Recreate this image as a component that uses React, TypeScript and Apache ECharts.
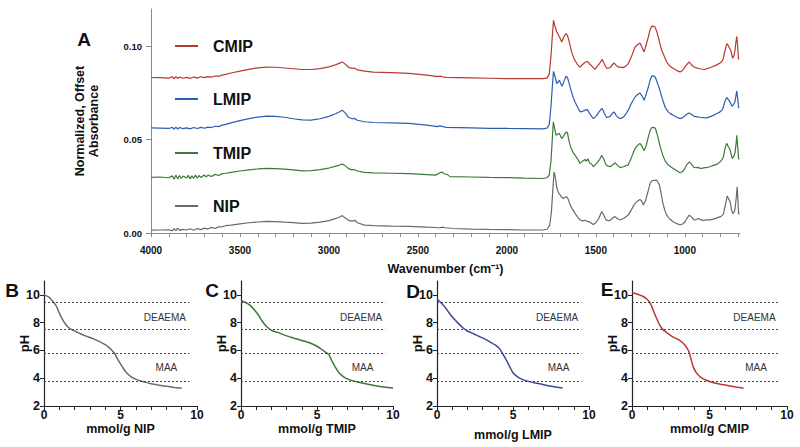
import React, { useEffect, useRef } from "react";
import * as echarts from "echarts";

// ---------- Panel A: FTIR spectra (wavenumber cm-1, normalized offset absorbance) ----------
const spectrumNames = ["CMIP", "LMIP", "TMIP", "NIP"];
const spectrumColors = ["#b8392f", "#2c5db2", "#3c7a37", "#6a6a6a"];

const cmipSpectrum: [number, number][] = [
  [4000, 0.0833], [3950, 0.0832], [3900, 0.083], [3880, 0.0837], [3870, 0.0826], [3860, 0.0838], [3850, 0.0827],
  [3840, 0.0836], [3820, 0.0829], [3800, 0.0834], [3780, 0.0828], [3760, 0.0836], [3740, 0.083], [3720, 0.0837],
  [3700, 0.0832], [3680, 0.0838], [3660, 0.0835], [3640, 0.0841], [3620, 0.084], [3600, 0.0846], [3580, 0.085],
  [3550, 0.0857], [3500, 0.0867], [3450, 0.0877], [3400, 0.0885], [3350, 0.0889], [3300, 0.0888], [3250, 0.0884],
  [3200, 0.088], [3150, 0.0876], [3100, 0.0876], [3050, 0.0881], [3000, 0.089], [2960, 0.0902], [2940, 0.091],
  [2925, 0.0916], [2910, 0.0906], [2890, 0.0888], [2870, 0.0882], [2858, 0.0884], [2840, 0.0874], [2800, 0.0867],
  [2750, 0.0862], [2650, 0.0859], [2550, 0.0855], [2450, 0.0846], [2390, 0.0838], [2376, 0.084], [2360, 0.0836],
  [2340, 0.0834], [2200, 0.0831], [2100, 0.0829], [2000, 0.0827], [1900, 0.0827], [1800, 0.0827], [1775, 0.083],
  [1762, 0.085], [1752, 0.095], [1745, 0.105], [1738, 0.1139], [1730, 0.111], [1720, 0.1077], [1712, 0.1065],
  [1705, 0.105], [1697, 0.1035], [1692, 0.1023], [1679, 0.1053], [1668, 0.1068], [1660, 0.106], [1650, 0.1025],
  [1645, 0.1005], [1635, 0.0965], [1623, 0.0934], [1605, 0.0905], [1589, 0.0889], [1575, 0.0903], [1560, 0.0915],
  [1548, 0.092], [1535, 0.0905], [1523, 0.0895], [1505, 0.0877], [1495, 0.089], [1482, 0.0905], [1464, 0.093],
  [1452, 0.0905], [1439, 0.0881], [1428, 0.0884], [1420, 0.0886], [1408, 0.09], [1398, 0.0911], [1386, 0.0898],
  [1374, 0.0889], [1364, 0.0889], [1346, 0.0886], [1330, 0.0895], [1318, 0.0907], [1300, 0.0945], [1280, 0.0996],
  [1265, 0.101], [1252, 0.1018], [1241, 0.0995], [1229, 0.097], [1217, 0.101], [1205, 0.105], [1195, 0.109],
  [1186, 0.1107], [1175, 0.1108], [1167, 0.1102], [1158, 0.108], [1149, 0.105], [1140, 0.1015], [1130, 0.0979],
  [1115, 0.0945], [1102, 0.0916], [1085, 0.0895], [1065, 0.0881], [1045, 0.087], [1027, 0.0863], [1012, 0.0872],
  [999, 0.089], [987, 0.0905], [975, 0.0916], [962, 0.09], [948, 0.0889], [930, 0.0883], [915, 0.088], [892, 0.0876],
  [870, 0.0882], [849, 0.0889], [825, 0.0898], [802, 0.0911], [790, 0.0922], [784, 0.0935], [775, 0.0975],
  [765, 0.101], [761, 0.1014], [752, 0.0995], [742, 0.0979], [731, 0.0936], [724, 0.095], [718, 0.098],
  [712, 0.103], [708, 0.1053], [703, 0.1], [699, 0.0934], [694, 0.093],
];

const lmipSpectrum: [number, number][] = [
  [4000, 0.0563], [3950, 0.0562], [3900, 0.056], [3880, 0.0566], [3870, 0.0556], [3860, 0.0567], [3850, 0.0557],
  [3840, 0.0565], [3820, 0.0559], [3800, 0.0563], [3780, 0.0558], [3760, 0.0565], [3740, 0.056], [3720, 0.0566],
  [3700, 0.0561], [3680, 0.0567], [3660, 0.0565], [3640, 0.0572], [3620, 0.057], [3600, 0.0578], [3580, 0.0582],
  [3550, 0.059], [3500, 0.0602], [3450, 0.0613], [3400, 0.0621], [3350, 0.0626], [3300, 0.0625], [3250, 0.062],
  [3200, 0.0612], [3150, 0.0606], [3100, 0.0605], [3050, 0.0612], [3000, 0.0625], [2960, 0.064], [2940, 0.065],
  [2925, 0.0658], [2910, 0.0645], [2890, 0.062], [2870, 0.0612], [2858, 0.0614], [2840, 0.0604], [2800, 0.0596],
  [2750, 0.0592], [2650, 0.059], [2550, 0.0587], [2450, 0.0578], [2390, 0.057], [2376, 0.0574], [2360, 0.057],
  [2340, 0.0566], [2200, 0.0563], [2100, 0.0561], [2000, 0.056], [1900, 0.0559], [1800, 0.0558], [1775, 0.0562],
  [1762, 0.058], [1752, 0.068], [1745, 0.078], [1738, 0.0866], [1730, 0.084], [1720, 0.08], [1712, 0.081],
  [1705, 0.0818], [1697, 0.08], [1690, 0.0786], [1678, 0.0815], [1668, 0.084], [1660, 0.0835], [1650, 0.08],
  [1640, 0.0765], [1628, 0.0728], [1617, 0.0702], [1600, 0.067], [1589, 0.0649], [1575, 0.0652], [1560, 0.0658],
  [1548, 0.0661], [1535, 0.064], [1524, 0.0625], [1514, 0.0613], [1500, 0.0625], [1485, 0.0645], [1470, 0.0664],
  [1464, 0.0667], [1452, 0.064], [1439, 0.0619], [1428, 0.0622], [1420, 0.0625], [1408, 0.064], [1398, 0.0649],
  [1386, 0.063], [1374, 0.0618], [1364, 0.0613], [1346, 0.062], [1330, 0.064], [1318, 0.0658], [1300, 0.0695],
  [1280, 0.0729], [1265, 0.0742], [1252, 0.075], [1241, 0.0735], [1229, 0.0711], [1217, 0.0745], [1205, 0.0782],
  [1195, 0.082], [1186, 0.084], [1175, 0.0842], [1165, 0.0833], [1153, 0.08], [1143, 0.0774], [1133, 0.074],
  [1124, 0.0711], [1110, 0.0672], [1093, 0.0649], [1080, 0.0638], [1065, 0.0631], [1045, 0.062], [1027, 0.0613],
  [1012, 0.0618], [999, 0.0628], [987, 0.0638], [975, 0.0643], [962, 0.0635], [948, 0.0625], [930, 0.0622],
  [915, 0.062], [895, 0.0618], [878, 0.0617], [860, 0.0622], [840, 0.063], [820, 0.064], [802, 0.0649],
  [790, 0.066], [784, 0.0672], [775, 0.0705], [765, 0.0726], [755, 0.0715], [746, 0.07], [738, 0.0685],
  [733, 0.0679], [725, 0.069], [718, 0.0705], [712, 0.074], [708, 0.0761], [703, 0.072], [698, 0.0672], [694, 0.067],
];

const tmipSpectrum: [number, number][] = [
  [4000, 0.0298], [3950, 0.03], [3900, 0.0296], [3880, 0.0306], [3870, 0.0288], [3860, 0.031], [3850, 0.029],
  [3840, 0.0308], [3830, 0.0292], [3820, 0.0305], [3800, 0.0295], [3790, 0.0309], [3780, 0.029], [3770, 0.0306],
  [3760, 0.0293], [3750, 0.031], [3740, 0.0294], [3730, 0.0308], [3720, 0.0297], [3700, 0.0311], [3690, 0.0299],
  [3680, 0.031], [3660, 0.0303], [3640, 0.0314], [3620, 0.0308], [3600, 0.0318], [3580, 0.032], [3550, 0.0325],
  [3500, 0.0332], [3450, 0.0338], [3400, 0.0343], [3350, 0.0346], [3300, 0.0345], [3250, 0.0342], [3200, 0.0338],
  [3150, 0.0333], [3100, 0.0334], [3050, 0.034], [3000, 0.0348], [2960, 0.0358], [2940, 0.0364], [2925, 0.0369],
  [2910, 0.0362], [2890, 0.0345], [2870, 0.0338], [2858, 0.034], [2840, 0.0332], [2800, 0.0325], [2750, 0.0322],
  [2650, 0.032], [2550, 0.0318], [2450, 0.0313], [2400, 0.031], [2376, 0.0323], [2365, 0.0326], [2348, 0.0316],
  [2335, 0.0314], [2320, 0.0302], [2200, 0.03], [2100, 0.0298], [2000, 0.0297], [1900, 0.0294], [1800, 0.0292],
  [1775, 0.0296], [1762, 0.031], [1752, 0.039], [1745, 0.05], [1739, 0.0595], [1732, 0.056], [1724, 0.0524],
  [1715, 0.053], [1705, 0.0533], [1697, 0.0515], [1690, 0.0506], [1678, 0.0525], [1668, 0.054], [1660, 0.0538],
  [1650, 0.049], [1640, 0.0455], [1628, 0.0432], [1617, 0.0417], [1600, 0.0392], [1589, 0.0373], [1575, 0.0385],
  [1561, 0.0394], [1553, 0.0384], [1545, 0.0398], [1535, 0.0375], [1525, 0.037], [1514, 0.0355], [1502, 0.0368],
  [1492, 0.0378], [1478, 0.0395], [1467, 0.0417], [1455, 0.0395], [1443, 0.0365], [1430, 0.0358], [1420, 0.0355],
  [1405, 0.0366], [1392, 0.0376], [1378, 0.0362], [1364, 0.035], [1345, 0.0355], [1327, 0.0362], [1318, 0.0364],
  [1300, 0.0405], [1280, 0.0453], [1265, 0.047], [1252, 0.048], [1241, 0.0465], [1229, 0.044], [1217, 0.047],
  [1205, 0.0515], [1195, 0.055], [1186, 0.0565], [1175, 0.0566], [1165, 0.056], [1153, 0.052], [1143, 0.048],
  [1133, 0.0445], [1124, 0.0417], [1110, 0.0385], [1093, 0.0364], [1080, 0.0355], [1065, 0.0346], [1045, 0.0333],
  [1027, 0.0323], [1012, 0.033], [999, 0.0348], [987, 0.0368], [975, 0.0381], [962, 0.0368], [948, 0.0352],
  [935, 0.035], [924, 0.0352], [915, 0.0346], [900, 0.0348], [887, 0.035], [870, 0.0352], [855, 0.0356],
  [840, 0.0362], [820, 0.0368], [802, 0.0381], [790, 0.0395], [784, 0.0405], [775, 0.045], [765, 0.048],
  [755, 0.0462], [746, 0.0447], [738, 0.0415], [733, 0.0399], [725, 0.041], [718, 0.043], [712, 0.048],
  [708, 0.0524], [703, 0.046], [698, 0.0399], [694, 0.0395],
];

const nipSpectrum: [number, number][] = [
  [4000, 0.0015], [3950, 0.0016], [3900, 0.0017], [3880, 0.0012], [3870, 0.0024], [3860, 0.0013], [3850, 0.0026],
  [3840, 0.0014], [3820, 0.0019], [3800, 0.0016], [3780, 0.0023], [3760, 0.0015], [3740, 0.0024], [3720, 0.0018],
  [3700, 0.0026], [3680, 0.0021], [3660, 0.003], [3640, 0.0024], [3620, 0.0033], [3600, 0.0034], [3580, 0.0039],
  [3550, 0.0042], [3500, 0.0049], [3450, 0.0055], [3400, 0.0059], [3350, 0.0062], [3300, 0.0061], [3250, 0.0058],
  [3200, 0.0056], [3150, 0.0052], [3100, 0.0053], [3050, 0.0058], [3000, 0.0066], [2960, 0.0078], [2940, 0.0086],
  [2925, 0.0093], [2910, 0.0082], [2890, 0.0068], [2870, 0.0064], [2855, 0.0068], [2840, 0.0055], [2800, 0.0042],
  [2750, 0.0039], [2650, 0.0037], [2550, 0.0036], [2450, 0.0031], [2380, 0.0028], [2365, 0.0031], [2345, 0.0028],
  [2300, 0.0024], [2200, 0.0021], [2100, 0.0019], [2000, 0.0018], [1900, 0.0016], [1800, 0.0016], [1775, 0.002],
  [1760, 0.004], [1750, 0.011], [1742, 0.023], [1735, 0.0328], [1728, 0.03], [1720, 0.0245], [1710, 0.0215],
  [1700, 0.0203], [1690, 0.019], [1683, 0.0185], [1672, 0.0192], [1664, 0.0194], [1655, 0.018], [1645, 0.0152],
  [1630, 0.0125], [1617, 0.0105], [1600, 0.0082], [1589, 0.007], [1575, 0.0065], [1561, 0.0068], [1548, 0.0062],
  [1537, 0.006], [1525, 0.0052], [1514, 0.0045], [1500, 0.0055], [1485, 0.0075], [1467, 0.0115], [1455, 0.0095],
  [1443, 0.007], [1430, 0.0066], [1420, 0.0068], [1405, 0.008], [1392, 0.0088], [1378, 0.0076], [1364, 0.007],
  [1345, 0.0078], [1327, 0.009], [1318, 0.0096], [1300, 0.0125], [1280, 0.0159], [1265, 0.0172], [1252, 0.018],
  [1242, 0.017], [1233, 0.015], [1220, 0.0175], [1205, 0.023], [1195, 0.0265], [1186, 0.028], [1172, 0.0282],
  [1158, 0.0283], [1143, 0.0258], [1133, 0.021], [1124, 0.0162], [1112, 0.012], [1102, 0.0096], [1085, 0.0075],
  [1065, 0.006], [1045, 0.005], [1027, 0.0043], [1012, 0.0048], [999, 0.006], [987, 0.008], [975, 0.0096],
  [962, 0.0085], [948, 0.007], [935, 0.0072], [924, 0.0078], [910, 0.007], [896, 0.0068], [878, 0.007],
  [858, 0.007], [835, 0.0076], [812, 0.0084], [798, 0.0088], [784, 0.01], [772, 0.015], [762, 0.0198],
  [755, 0.0185], [746, 0.0168], [738, 0.0125], [731, 0.0105], [724, 0.011], [718, 0.013], [711, 0.019],
  [706, 0.0248], [702, 0.018], [698, 0.0105], [694, 0.01],
];

const spectra = [cmipSpectrum, lmipSpectrum, tmipSpectrum, nipSpectrum];
const legendCenterTops = [38, 91, 145, 198];

const wavenumberLabels = [1000, 1500, 2000, 2500, 3000, 3500, 4000];
const wavenumberTicks = [
  700, 800, 900, 1000, 1100, 1200, 1300, 1400, 1500, 1600, 1700, 1800, 1900, 2000, 2100, 2200, 2300, 2400,
  2500, 2600, 2700, 2800, 2900, 3000, 3100, 3200, 3300, 3400, 3500, 3600, 3700, 3800, 3900, 4000,
];
const absorbanceLabels = [0, 0.05, 0.1];

// ---------- Panels B–E: titration curves (mmol/g vs pH) ----------
const titrationNames = ["mmol/g NIP", "mmol/g TMIP", "mmol/g LMIP", "mmol/g CMIP"];
const titrationLetters = ["B", "C", "D", "E"];
const titrationColors = ["#6a6a6a", "#3c7a37", "#3a479c", "#b8392f"];

const nipTitration: [number, number][] = [
  [0, 10.0], [0.3, 9.85], [0.6, 9.5], [0.8, 9.2], [1.0, 8.7], [1.15, 8.35], [1.4, 7.9], [1.6, 7.65],
  [1.9, 7.45], [2.2, 7.3], [2.7, 7.05], [3.2, 6.85], [3.7, 6.6], [4.1, 6.35], [4.4, 6.05], [4.6, 5.8],
  [4.85, 5.3], [5.1, 4.85], [5.35, 4.45], [5.7, 4.1], [6.1, 3.88], [6.5, 3.75], [7.0, 3.6], [7.5, 3.5],
  [8.0, 3.42], [8.5, 3.34], [9.0, 3.27],
];
const tmipTitration: [number, number][] = [
  [0, 9.6], [0.3, 9.45], [0.6, 9.25], [0.9, 8.9], [1.15, 8.55], [1.4, 8.1], [1.7, 7.7], [2.0, 7.45],
  [2.4, 7.3], [3.0, 7.05], [3.5, 6.88], [4.0, 6.72], [4.5, 6.55], [5.0, 6.3], [5.4, 6.0], [5.77, 5.7],
  [6.0, 5.2], [6.2, 4.8], [6.45, 4.4], [6.75, 4.1], [7.1, 3.9], [7.6, 3.75], [8.2, 3.6], [8.95, 3.44],
  [9.5, 3.35], [10.0, 3.3],
];
const lmipTitration: [number, number][] = [
  [0, 9.7], [0.25, 9.45], [0.54, 9.1], [0.8, 8.7], [1.1, 8.3], [1.4, 7.95], [1.74, 7.6], [2.0, 7.4],
  [2.4, 7.2], [3.0, 6.9], [3.5, 6.6], [3.85, 6.38], [4.1, 6.15], [4.3, 5.8], [4.56, 5.3], [4.8, 4.8],
  [5.0, 4.4], [5.3, 4.1], [5.65, 3.9], [6.2, 3.72], [6.74, 3.6], [7.5, 3.42], [8.26, 3.3],
];
const cmipTitration: [number, number][] = [
  [0, 10.15], [0.35, 10.05], [0.7, 9.9], [0.95, 9.7], [1.15, 9.45], [1.3, 9.1], [1.47, 8.6], [1.65, 8.15],
  [1.8, 7.8], [2.0, 7.5], [2.23, 7.3], [2.6, 7.0], [3.1, 6.7], [3.4, 6.4], [3.64, 6.0], [3.8, 5.4],
  [3.96, 4.8], [4.15, 4.4], [4.4, 4.1], [4.8, 3.85], [5.26, 3.67], [5.7, 3.57], [6.1, 3.5], [6.7, 3.37],
  [7.2, 3.27],
];
const titrations = [nipTitration, tmipTitration, lmipTitration, cmipTitration];

const pKaLevels = [9.5, 7.5, 5.8, 3.75];
const pKaLineEnd = 9.5;
const regionLabels: { name: string; x: number; pH: number }[] = [
  { name: "DEAEMA", x: 7.9, pH: 8.4 },
  { name: "MAA", x: 8.0, pH: 4.75 },
];
const mmolLabels = [0, 5, 10];
const mmolTicks = [0, 1, 2, 3, 4, 5, 6, 7, 8, 9, 10];
const pHLabels = [2, 4, 6, 8, 10];

// layout
const smallLefts = [44, 241, 437, 632];
const smallWidths = [153, 152, 152, 155];
const smallNameGaps = [16, 16, 22, 16];
const letterPos: [number, number][] = [[12, 290], [212, 290], [413, 291], [607, 289]];

const FONT = "'Liberation Sans', Arial, Helvetica, sans-serif";

function buildOption(): any {
  const grid: any[] = [{ left: 151, top: 9, width: 589, height: 224 }];
  const xAxis: any[] = [
    {
      gridIndex: 0,
      type: "value",
      inverse: true,
      min: 690,
      max: 4000,
      splitLine: { show: false },
      axisLine: { lineStyle: { color: "#8a8a8a", width: 1 } },
      axisTick: { customValues: wavenumberTicks, length: 4, lineStyle: { color: "#8a8a8a" } },
      axisLabel: {
        customValues: wavenumberLabels,
        formatter: (v: number) => String(v),
        fontSize: 10,
        fontWeight: "bold",
        color: "#111",
        margin: 12,
        fontFamily: FONT,
      },
      name: "Wavenumber (cm\u207B\u00B9)",
      nameLocation: "middle",
      nameGap: 29,
      nameTextStyle: { fontSize: 12.5, fontWeight: "bold", color: "#111", fontFamily: FONT },
    },
  ];
  const yAxis: any[] = [
    {
      gridIndex: 0,
      type: "value",
      min: 0,
      max: 0.12,
      splitLine: { show: false },
      axisLine: { show: true, lineStyle: { color: "#8a8a8a", width: 1 } },
      axisTick: { show: true, customValues: absorbanceLabels, length: 5, lineStyle: { color: "#8a8a8a" } },
      axisLabel: {
        customValues: absorbanceLabels,
        formatter: (v: number) => v.toFixed(2),
        fontSize: 9.5,
        fontWeight: "bold",
        color: "#111",
        margin: 9,
        fontFamily: FONT,
      },
      name: "Normalized, Offset\nAbsorbance",
      nameLocation: "middle",
      nameGap: 50,
      nameTextStyle: { fontSize: 12.5, lineHeight: 14, fontWeight: "bold", color: "#111", fontFamily: FONT, align: "center" },
    },
  ];
  const series: any[] = spectrumNames.map((n, i) => ({
    name: n,
    type: "line",
    xAxisIndex: 0,
    yAxisIndex: 0,
    data: spectra[i],
    showSymbol: false,
    symbol: "none",
    lineStyle: { color: spectrumColors[i], width: 1.2 },
    itemStyle: { color: spectrumColors[i] },
    z: 3,
  }));
  const legend: any[] = spectrumNames.map((n, i) => ({
    data: [n],
    left: 175,
    top: legendCenterTops[i],
    padding: 0,
    icon: "rect",
    itemWidth: 23,
    itemHeight: 2,
    selectedMode: false,
    textStyle: { fontSize: 16, fontWeight: "bold", color: "#111", fontFamily: FONT, padding: [0, 0, 0, 10] },
  }));

  titrations.forEach((data, i) => {
    const gi = i + 1;
    grid.push({ left: smallLefts[i], top: 281, width: smallWidths[i], height: 125 });
    xAxis.push({
      gridIndex: gi,
      type: "value",
      min: 0,
      max: 10,
      splitLine: { show: false },
      axisLine: { lineStyle: { color: "#222", width: 1.2 } },
      axisTick: { customValues: mmolTicks, length: 4, lineStyle: { color: "#222" } },
      axisLabel: { customValues: mmolLabels, fontSize: 12, fontWeight: "bold", color: "#111", margin: 3, fontFamily: FONT },
      name: titrationNames[i],
      nameLocation: "middle",
      nameGap: smallNameGaps[i],
      nameMoveOverlap: false,
      nameTextStyle: { fontSize: 12.5, fontWeight: "bold", color: "#111", fontFamily: FONT },
    });
    yAxis.push({
      gridIndex: gi,
      type: "value",
      min: 2,
      max: 11,
      splitLine: { show: false },
      axisLine: { show: true, lineStyle: { color: "#222", width: 1.2 } },
      axisTick: { show: true, customValues: pHLabels, length: 4, lineStyle: { color: "#222" } },
      axisLabel: { customValues: pHLabels, fontSize: 12.5, fontWeight: "bold", color: "#111", margin: 4, fontFamily: FONT },
      name: "pH",
      nameLocation: "middle",
      nameGap: 13,
      nameMoveOverlap: false,
      nameTextStyle: { fontSize: 13, fontWeight: "bold", color: "#111", fontFamily: FONT },
    });
    series.push({
      name: titrationNames[i],
      type: "line",
      xAxisIndex: gi,
      yAxisIndex: gi,
      data,
      smooth: 0.3,
      showSymbol: false,
      symbol: "none",
      lineStyle: { color: titrationColors[i], width: 1.5 },
      itemStyle: { color: titrationColors[i] },
      z: 3,
      markLine: {
        silent: true,
        symbol: ["none", "none"],
        label: { show: false },
        lineStyle: { type: [2, 2], color: "#444", width: 1 },
        data: pKaLevels.map((p) => [{ coord: [0, p] }, { coord: [pKaLineEnd, p] }]),
      },
      markPoint: {
        silent: true,
        symbol: "circle",
        symbolSize: 1,
        itemStyle: { color: "rgba(0,0,0,0)" },
        label: { show: true, position: "inside", formatter: "{b}", fontSize: 10, color: "#333", fontFamily: FONT },
        data: regionLabels.map((r) => ({ name: r.name, coord: [r.x, r.pH] })),
      },
    });
  });

  const letters = ["A", ...titrationLetters];
  const lettersPos: [number, number][] = [[84, 39], ...letterPos];
  const graphic = letters.map((t, i) => ({
    type: "text",
    x: lettersPos[i][0],
    y: lettersPos[i][1],
    style: {
      text: t,
      fontSize: 19,
      fontWeight: "bold",
      fontFamily: FONT,
      fill: "#111",
      align: "center",
      verticalAlign: "middle",
    },
  }));

  return {
    animation: false,
    backgroundColor: "#ffffff",
    textStyle: { fontFamily: FONT },
    grid,
    xAxis,
    yAxis,
    legend,
    series,
    graphic,
  };
}

export default function App() {
  const ref = useRef<HTMLDivElement>(null);
  useEffect(() => {
    if (!ref.current) return;
    const chart = echarts.init(ref.current, null, { renderer: "svg" });
    chart.setOption(buildOption());
    return () => chart.dispose();
  }, []);
  return (
    <div
      ref={ref}
      style={{ position: "absolute", left: 0, top: 0, width: 800, height: 447, background: "#fff" }}
    />
  );
}
